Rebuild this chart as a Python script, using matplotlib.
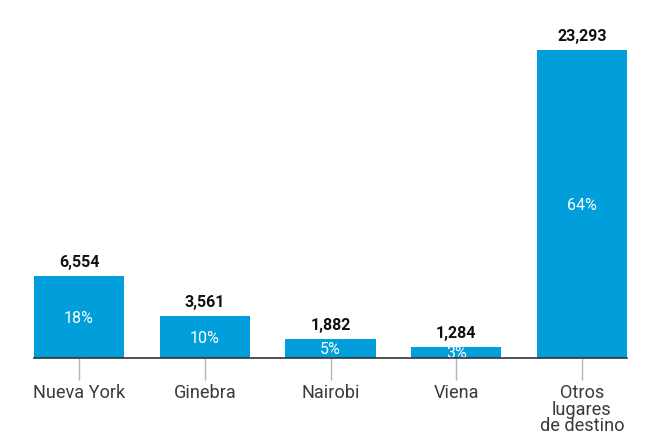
import numpy as np
import matplotlib; matplotlib.use("Agg")
import matplotlib.pyplot as plt

plt.rcParams['font.family'] = ['Roboto', 'DejaVu Sans']

destinos = ['Nueva York', 'Ginebra', 'Nairobi', 'Viena', 'Otros\nlugares\nde destino']
valores = [6554, 3561, 1882, 1284, 23293]
porcentajes = ['18%', '10%', '5%', '3%', '64%']

azul = '#009fdb'
ymin = 481

fig = plt.figure(figsize=(6.70, 4.35), dpi=100)
ax = fig.add_axes([34 / 670, 76 / 435, 593 / 670, 339 / 435])

x = np.arange(len(destinos))
ax.bar(x, valores, width=0.717, color=azul, zorder=2)

for xi, v, p in zip(x, valores, porcentajes):
    ax.annotate(f'{v:,}', (xi, v), xytext=(0, 5), textcoords='offset points',
                ha='center', va='bottom', fontsize=11.5, fontweight='bold', color='#111111')
    ax.text(xi, (v + ymin) / 2, p, ha='center', va='center', fontsize=11.5,
            color='white', zorder=3)

ax.set_xlim(-0.3586, len(destinos) - 1 + 0.3586)
ax.set_ylim(ymin, 25590)

for s in ['top', 'right', 'left']:
    ax.spines[s].set_visible(False)
ax.spines['bottom'].set_color('#333333')
ax.spines['bottom'].set_linewidth(1.2)
ax.spines['bottom'].set_zorder(4)

ax.set_yticks([])
ax.set_xticks(x)
ax.set_xticklabels(destinos, fontsize=13.1, color='#3a3a3a', linespacing=0.9)
ax.tick_params(axis='x', length=16, width=1, color='#b5b5b5', pad=2)
ax.set_facecolor('white')

fig.savefig('out.png', dpi=100, facecolor='white')
